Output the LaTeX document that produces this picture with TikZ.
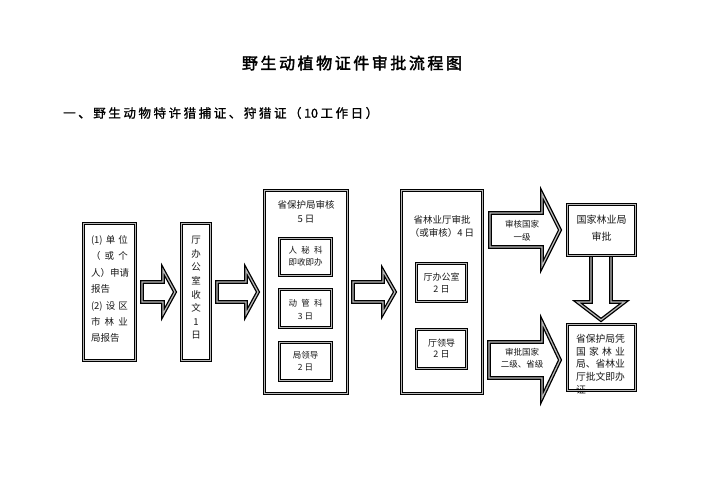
\documentclass[tikz,border=0pt]{standalone}
\usepackage{fontspec}
\setmainfont{Noto Sans CJK SC}
\newfontfamily\titlefont[FakeBold=2.2]{Noto Sans CJK SC}
\newfontfamily\subfont[FakeBold=1.2]{Noto Sans CJK SC}
\newcommand\myfs[2]{\fontsize{#1}{#2}\selectfont}
\newcommand\harrow[6]{% x1, xh, x2, yc, shaft half, head half
  \draw[dbl] (#1,{#4-#5}) -- (#2,{#4-#5}) -- (#2,{#4-#6}) -- (#3,#4) -- (#2,{#4+#6}) -- (#2,{#4+#5}) -- (#1,{#4+#5}) -- cycle;}
\tikzset{
  dbl/.style={draw=black, line width=1.3pt, double=gray!55, double distance=1.2pt, fill=white, line join=miter},
  box/.style={dbl, inner sep=0pt},
  txt/.style={inner sep=0pt, align=center, text=black!90},
}
\begin{document}
\begin{tikzpicture}[x=1pt, y=-1pt]
\path[use as bounding box, fill=white] (0,0) rectangle (707,500);

% titles
\node[txt, text=black] (title) at (352,63) {\titlefont\myfs{16}{16}\makebox[220pt][s]{野\hfill 生\hfill 动\hfill 植\hfill 物\hfill 证\hfill 件\hfill 审\hfill 批\hfill 流\hfill 程\hfill 图}};
\node[txt, anchor=west, text=black] (sub) at (63,113) {\subfont\myfs{12.5}{12.5}\makebox[315pt][s]{一\hfill 、\hfill 野\hfill 生\hfill 动\hfill 物\hfill 特\hfill 许\hfill 猎\hfill 捕\hfill 证\hfill 、\hfill 狩\hfill 猎\hfill 证\hfill （\hfill 10\hfill 工\hfill 作\hfill 日\hfill ）}};

% arrows
\harrow{142}{163}{175}{292}{10}{22}
\harrow{217}{246}{258}{292}{10}{22}
\harrow{353}{383}{395}{292}{10}{21}
\harrow{490}{542}{560}{230}{17}{36}
\harrow{489}{542}{560}{360}{18}{38}
\draw[dbl] (591,250) -- (591,302) -- (577.5,302) -- (601,320) -- (624.5,302) -- (611,302) -- (611,250) -- cycle;

% boxes
\node[box, minimum width=52pt, minimum height=137pt] (b1) at (109.5,292) {};
\node[box, minimum width=29pt, minimum height=137pt] (b2) at (196,292) {};
\node[box, minimum width=83pt, minimum height=203pt] (b3) at (306,292) {};
\node[box, minimum width=52pt, minimum height=37pt] (b3a) at (305.5,257) {};
\node[box, minimum width=52pt, minimum height=38pt] (b3b) at (305.5,308.5) {};
\node[box, minimum width=52pt, minimum height=38pt] (b3c) at (305.5,361.5) {};
\node[box, minimum width=81pt, minimum height=203pt] (b4) at (442,292) {};
\node[box, minimum width=50pt, minimum height=38pt] (b4a) at (441.5,282.5) {};
\node[box, minimum width=50pt, minimum height=39pt] (b4b) at (441.5,349) {};
\node[box, minimum width=68pt, minimum height=51pt] (b5) at (601.5,230) {};

% texts
\node[txt, align=left, font={\myfs{9.5}{16.4}}] (b1t) at (109.5,289) {%
\makebox[37pt][s]{(1)\hfill 单\hfill 位}\\
\makebox[37pt][s]{（\hfill 或\hfill 个}\\
\makebox[37pt][s]{人）\hfill 申\hfill 请}\\
\makebox[37pt][l]{报告}\\
\makebox[37pt][s]{(2)\hfill 设\hfill 区}\\
\makebox[37pt][s]{市\hfill 林\hfill 业}\\
\makebox[37pt][l]{局报告}};
\node[txt, font={\myfs{9.5}{13.6}}] (b2t) at (196,288) {厅\\办\\公\\室\\收\\文\\1\\日};
\node[txt, font={\myfs{9.5}{14}}] (b3t) at (306,212) {省保护局审核\\5 日};
\node[txt, font={\myfs{8.5}{11.5}}] (b3at) at (305.5,256.5) {\makebox[34pt][s]{人\hfill 秘\hfill 科}\\即收即办};
\node[txt, font={\myfs{8.5}{12.5}}] (b3bt) at (305.5,309.5) {\makebox[34pt][s]{动\hfill 管\hfill 科}\\3 日};
\node[txt, font={\myfs{8.5}{12.5}}] (b3ct) at (305.5,361) {局领导\\2 日};
\node[txt, font={\myfs{9.5}{13}}] (b4t) at (442,226.5) {省林业厅审批\\（或审核）4 日};
\node[txt, font={\myfs{9}{12}}] (b4at) at (441.5,283) {厅办公室\\2 日};
\node[txt, font={\myfs{9}{11.5}}] (b4bt) at (441.5,348.5) {厅领导\\2 日};
\node[txt, font={\myfs{10}{17}}] (b5t) at (601.5,228.5) {国家林业局\\审批};
\node[txt, font={\myfs{8.5}{13}}] (a4t) at (522,230.5) {审核国家\\一级};
\node[txt, font={\myfs{8.5}{12.5}}] (a5t) at (522,358) {审批国家\\二级、省级};
\node[txt, align=left, font={\myfs{9.8}{12.6}}] (b6t) at (600.5,364) {%
省保护局凭\\
\makebox[49pt][s]{国\hfill 家\hfill 林\hfill 业}\\
局、省林业\\
厅批文即办\\
证};
\node[box, fill=none, minimum width=68pt, minimum height=66pt] (b6) at (601.5,357.5) {};
\end{tikzpicture}
\end{document}
